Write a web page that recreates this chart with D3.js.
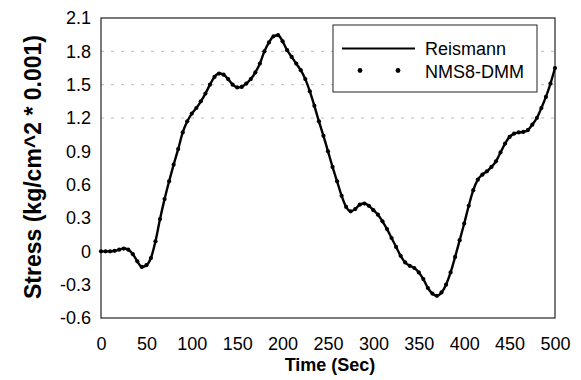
<!DOCTYPE html>
<html>
<head>
<meta charset="utf-8">
<script src="https://cdn.jsdelivr.net/npm/d3@7"></script>
<style>
  body { margin: 0; background: #fff; }
  text { font-family: "Liberation Sans", Arial, sans-serif; fill: #000; }
</style>
</head>
<body>
<div id="chart"></div>
<script>
// time in seconds, every 5 s
const times = d3.range(0, 501, 5);
// stress (kg/cm^2 * 0.001)
const reismann = [
  0.00, 0.00, 0.00, 0.005, 0.015, 0.025, 0.015, -0.025, -0.09, -0.14,
  -0.125, -0.06, 0.09, 0.29, 0.47, 0.63, 0.78, 0.92, 1.07, 1.17,
  1.24, 1.29, 1.35, 1.42, 1.50, 1.57, 1.60, 1.59, 1.55, 1.50,
  1.475, 1.48, 1.51, 1.55, 1.61, 1.69, 1.80, 1.88, 1.935, 1.945,
  1.89, 1.81, 1.75, 1.69, 1.63, 1.55, 1.44, 1.31, 1.17, 1.04,
  0.90, 0.76, 0.63, 0.50, 0.40, 0.36, 0.38, 0.42, 0.43, 0.41,
  0.37, 0.33, 0.27, 0.20, 0.12, 0.04, -0.04, -0.10, -0.13, -0.15,
  -0.19, -0.25, -0.33, -0.38, -0.40, -0.37, -0.30, -0.19, -0.05, 0.10,
  0.25, 0.41, 0.55, 0.645, 0.69, 0.72, 0.76, 0.81, 0.89, 0.97,
  1.03, 1.06, 1.07, 1.075, 1.09, 1.14, 1.20, 1.29, 1.39, 1.51,
  1.65
];
// NMS8-DMM sits right on top of the Reismann curve
const nms8 = reismann.slice();

const xTicks = [0, 50, 100, 150, 200, 250, 300, 350, 400, 450, 500];
const yTicks = [-0.6, -0.3, 0, 0.3, 0.6, 0.9, 1.2, 1.5, 1.8, 2.1];
const yTickLabels = ["-0.6", "-0.3", "0", "0.3", "0.6", "0.9", "1.2", "1.5", "1.8", "2.1"];
const gridY = [1.2, 1.5, 1.8];
const seriesNames = ["Reismann", "NMS8-DMM"];

const W = 581, H = 380;
const margin = { left: 101, right: 26, top: 18, bottom: 62 };

const svg = d3.select("#chart").append("svg")
  .attr("width", W)
  .attr("height", H);

const x = d3.scaleLinear().domain([0, 500]).range([margin.left, W - margin.right]);
const y = d3.scaleLinear().domain([-0.6, 2.1]).range([H - margin.bottom, margin.top]);

// faint dashed gridlines
svg.append("g")
  .selectAll("line")
  .data(gridY)
  .join("line")
  .attr("x1", x(0)).attr("x2", x(500))
  .attr("y1", d => y(d)).attr("y2", d => y(d))
  .attr("stroke", "#bbb")
  .attr("stroke-width", 1)
  .attr("stroke-dasharray", "3,7");

// axes
const xAxis = d3.axisBottom(x).tickValues(xTicks).tickSize(0).tickPadding(19);
const yAxis = d3.axisLeft(y).tickValues(yTicks).tickSize(0).tickPadding(10)
  .tickFormat((d, i) => yTickLabels[i]);

const gx = svg.append("g")
  .attr("transform", `translate(0, ${y(-0.6)})`)
  .call(xAxis);
const gy = svg.append("g")
  .attr("transform", `translate(${x(0)}, 0)`)
  .call(yAxis);

[gx, gy].forEach(g => {
  g.select(".domain").remove();
  g.selectAll("text")
    .style("font-family", "'Liberation Sans', Arial, sans-serif")
    .style("font-size", "18px")
    .attr("fill", "#000");
});

// plot frame
svg.append("rect")
  .attr("x", x(0)).attr("y", y(2.1))
  .attr("width", x(500) - x(0))
  .attr("height", y(-0.6) - y(2.1))
  .attr("fill", "none")
  .attr("stroke", "#222")
  .attr("stroke-width", 1.2);

// Reismann line
const line = d3.line()
  .x((d, i) => x(times[i]))
  .y(d => y(d))
  .curve(d3.curveMonotoneX);

svg.append("path")
  .datum(reismann)
  .attr("fill", "none")
  .attr("stroke", "#000")
  .attr("stroke-width", 2.4)
  .attr("d", line);

// NMS8-DMM dots
svg.append("g")
  .selectAll("circle")
  .data(nms8)
  .join("circle")
  .attr("cx", (d, i) => x(times[i]))
  .attr("cy", d => y(d))
  .attr("r", 2.1)
  .attr("fill", "#000");

// axis titles
svg.append("text")
  .attr("x", 330)
  .attr("y", 371)
  .attr("text-anchor", "middle")
  .style("font-size", "18px")
  .style("font-weight", "bold")
  .text("Time (Sec)");

svg.append("text")
  .attr("transform", "translate(41, 167) rotate(-90)")
  .attr("text-anchor", "middle")
  .style("font-size", "23px")
  .style("font-weight", "bold")
  .text("Stress (kg/cm^2 * 0.001)");

// legend
const lg = svg.append("g");
lg.append("rect")
  .attr("x", 333).attr("y", 25)
  .attr("width", 204).attr("height", 67)
  .attr("fill", "#fff")
  .attr("stroke", "#222")
  .attr("stroke-width", 1);

lg.append("line")
  .attr("x1", 342).attr("x2", 415)
  .attr("y1", 48.5).attr("y2", 48.5)
  .attr("stroke", "#000")
  .attr("stroke-width", 2);

lg.selectAll("circle")
  .data([360, 398])
  .join("circle")
  .attr("cx", d => d)
  .attr("cy", 70.5)
  .attr("r", 2.4)
  .attr("fill", "#000");

lg.selectAll("text")
  .data(seriesNames)
  .join("text")
  .attr("x", 425)
  .attr("y", (d, i) => 55 + i * 22.5)
  .style("font-size", "18px")
  .text(d => d);
</script>
</body>
</html>
